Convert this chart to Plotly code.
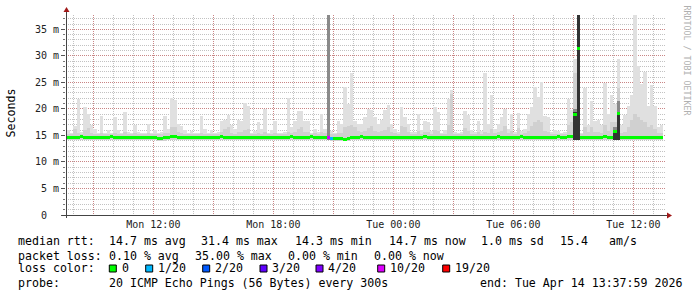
import pandas as pd
import plotly.graph_objects as go

# ---------------- data (10-minute bins, ms) ----------------
bin_start = "2026-04-13 07:40"
range_start = "2026-04-13 07:37:59"
range_end = "2026-04-14 13:37:59"

median_ms = [
    14.7, 14.7, 14.6, 14.7, 14.8, 14.7, 14.7, 14.6, 14.7, 14.7,
    14.6, 14.7, 14.7, 14.8, 14.7, 14.7, 14.6, 14.7, 14.7, 14.6,
    14.7, 14.7, 14.6, 14.7, 14.7, 14.6, 14.6, 14.5, 14.5, 14.6,
    14.7, 14.8, 14.8, 14.7, 14.7, 14.7, 14.6, 14.7, 14.7, 14.7,
    14.6, 14.7, 14.7, 14.6, 14.7, 14.7, 14.8, 14.7, 14.7, 14.6,
    14.7, 14.7, 14.6, 14.7, 14.6, 14.7, 14.7, 14.6, 14.7, 14.7,
    14.6, 14.7, 14.7, 14.6, 14.7, 14.7, 14.7, 14.8, 14.7, 14.6,
    14.7, 14.7, 14.7, 14.8, 14.7, 14.7, 14.6, 14.7, 14.7, 14.5,
    14.4, 14.5, 14.4, 14.3, 14.5, 14.7, 14.7, 14.7, 14.8, 14.7,
    14.7, 14.6, 14.7, 14.7, 14.6, 14.6, 14.7, 14.7, 14.7, 14.7,
    14.6, 14.7, 14.7, 14.7, 14.6, 14.7, 14.7, 14.8, 14.7, 14.7,
    14.7, 14.6, 14.7, 14.7, 14.6, 14.7, 14.7, 14.7, 14.6, 14.7,
    14.7, 14.7, 14.6, 14.7, 14.7, 14.7, 14.7, 14.6, 14.7, 14.8,
    14.7, 14.7, 14.7, 14.6, 14.7, 14.7, 14.8, 14.7, 14.7, 14.7,
    14.6, 14.7, 14.7, 14.7, 14.7, 14.6, 14.7, 14.8, 14.7, 14.7,
    14.8, 14.8, 18.9, 31.4, 14.6, 14.7, 14.7, 14.7, 14.6, 14.7,
    14.7, 14.8, 14.7, 14.7, 15.8, 19.2, 14.7, 14.7, 14.6, 14.7,
    14.7, 14.7, 14.7, 14.6, 14.7, 14.7, 14.7, 14.7, 14.7,
]

smoke_lo = [
    14.2, 14.2, 14.2, 14.2, 14.2, 14.2, 14.2, 14.2, 14.2, 14.2,
    14.2, 14.2, 14.2, 14.2, 14.2, 14.2, 14.2, 14.2, 14.2, 14.2,
    14.2, 14.2, 14.2, 14.2, 14.2, 14.2, 14.1, 13.9, 13.9, 13.9,
    14.2, 14.2, 14.2, 14.2, 14.2, 14.2, 14.2, 14.2, 14.2, 14.2,
    14.2, 14.2, 14.2, 14.2, 14.2, 14.2, 14.2, 14.2, 14.2, 14.2,
    14.2, 14.2, 14.2, 14.2, 14.2, 14.2, 14.2, 14.2, 14.2, 14.2,
    14.2, 14.2, 14.2, 14.2, 14.2, 14.2, 14.2, 14.2, 14.2, 14.2,
    14.2, 14.2, 14.2, 14.2, 14.2, 14.2, 14.2, 14.2, 14.2, 14.0,
    13.9, 13.9, 13.9, 13.9, 13.9, 14.2, 14.2, 14.2, 14.2, 14.2,
    14.2, 14.2, 14.2, 14.2, 14.2, 14.2, 14.2, 14.2, 14.2, 14.2,
    14.2, 14.2, 14.2, 14.2, 14.2, 14.2, 14.2, 14.2, 14.2, 14.2,
    14.2, 14.2, 14.2, 14.2, 14.2, 14.2, 14.2, 14.2, 14.2, 14.2,
    14.2, 14.2, 14.2, 14.2, 14.2, 14.2, 14.2, 14.2, 14.2, 14.2,
    14.2, 14.2, 14.2, 14.2, 14.2, 14.2, 14.2, 14.2, 14.2, 14.2,
    14.2, 14.2, 14.2, 14.2, 14.2, 14.2, 14.2, 14.2, 14.2, 14.2,
    14.2, 14.2, 14.2, 14.2, 14.2, 14.2, 14.2, 14.2, 14.2, 14.2,
    14.2, 14.2, 14.2, 14.2, 14.2, 14.2, 14.2, 14.2, 14.2, 14.2,
    14.2, 14.2, 14.2, 14.2, 14.2, 14.2, 14.2, 14.2, 14.2,
]

smoke_hi = [
    16.0, 15.5, 16.8, 21.9, 15.6, 20.3, 19.0, 16.9, 16.3, 15.4,
    18.6, 15.4, 16.0, 15.4, 18.4, 16.0, 15.4, 19.4, 15.6, 15.4,
    16.9, 15.6, 15.4, 15.4, 17.1, 15.5, 16.0, 15.4, 15.6, 18.6,
    16.3, 22.1, 21.6, 17.2, 16.8, 16.0, 15.4, 15.8, 15.4, 15.5,
    18.6, 16.3, 15.4, 16.0, 15.4, 15.6, 17.7, 18.0, 18.9, 16.9,
    16.3, 18.0, 17.7, 21.2, 20.6, 15.4, 15.8, 17.5, 16.3, 19.9,
    15.4, 16.0, 17.7, 15.4, 15.4, 15.6, 22.1, 16.6, 17.7, 19.6,
    19.6, 17.7, 17.7, 15.4, 16.3, 15.6, 19.0, 16.3, 40.0, 15.8,
    15.4, 17.7, 17.2, 24.2, 20.9, 26.8, 17.7, 17.2, 17.2, 18.4,
    20.0, 19.7, 18.4, 17.2, 18.0, 19.7, 20.8, 17.2, 16.3, 15.6,
    20.4, 18.4, 17.2, 15.6, 15.6, 19.0, 16.0, 17.7, 17.5, 15.8,
    20.3, 19.4, 15.4, 16.0, 21.9, 23.5, 15.6, 15.4, 15.6, 19.6,
    18.8, 16.0, 15.6, 17.7, 15.8, 26.8, 17.2, 22.6, 16.3, 17.2,
    18.4, 20.0, 16.3, 19.0, 15.6, 19.2, 15.8, 16.3, 19.0, 20.3,
    24.2, 22.2, 25.0, 18.6, 18.4, 15.6, 16.0, 15.8, 15.4, 15.6,
    21.9, 19.7, 29.5, 40.0, 15.4, 24.0, 16.9, 21.5, 17.7, 18.0,
    16.9, 24.8, 19.0, 22.6, 21.0, 29.5, 16.9, 18.8, 20.6, 22.6,
    40.0, 28.0, 24.7, 27.0, 20.6, 24.5, 20.6, 16.6, 16.9,
]

smoke_mid = [
    15.3, 15.2, 16.2, 15.4, 15.2, 16.0, 16.4, 15.4, 15.3, 15.2,
    15.4, 15.2, 15.3, 15.2, 15.5, 15.3, 15.2, 15.6, 15.2, 15.2,
    15.4, 15.2, 15.2, 15.2, 15.4, 15.2, 15.3, 15.2, 15.2, 15.5,
    15.4, 16.5, 16.5, 15.6, 15.4, 15.3, 15.2, 15.3, 15.2, 15.2,
    15.5, 15.3, 15.2, 15.3, 15.2, 15.2, 15.6, 16.2, 16.5, 15.5,
    15.3, 15.6, 15.6, 16.0, 16.3, 15.2, 15.3, 15.5, 15.3, 15.6,
    15.2, 15.3, 15.5, 15.2, 15.2, 15.2, 15.6, 15.4, 15.6, 16.2,
    16.5, 15.6, 15.6, 15.2, 15.4, 15.2, 15.6, 15.4, 15.8, 15.3,
    15.2, 15.5, 15.5, 16.5, 16.8, 17.0, 16.5, 15.8, 15.6, 15.8,
    16.4, 16.8, 15.8, 15.6, 15.8, 16.0, 16.5, 15.6, 15.4, 15.2,
    16.8, 16.5, 15.6, 15.2, 15.3, 15.8, 15.3, 15.6, 15.6, 15.3,
    16.0, 15.8, 15.2, 15.3, 17.0, 22.8, 15.3, 15.2, 15.3, 16.4,
    15.8, 15.3, 15.2, 15.6, 15.3, 15.6, 15.5, 16.2, 15.4, 15.6,
    15.8, 16.8, 15.4, 15.8, 15.2, 16.4, 15.3, 15.4, 15.8, 16.8,
    17.5, 18.0, 17.5, 15.8, 15.6, 15.2, 15.3, 15.3, 15.2, 15.3,
    17.0, 17.5, 26.8, 15.8, 15.2, 16.5, 15.6, 16.5, 15.6, 15.6,
    15.5, 17.0, 15.8, 17.5, 17.5, 24.0, 15.4, 15.6, 16.5, 18.0,
    19.0, 18.5, 18.0, 17.5, 16.5, 17.0, 16.3, 15.4, 15.4,
]

# sparse darker smoke bands (bin index -> top of band, ms)
dark_bins = [78, 152, 164, 165]
dark_top = [40.0, 20.0, 16.5, 21.5]
core_bins = [152, 153, 164, 165]
core_top = [19.5, 40.0, 15.7, 19.4]

# packet loss per bin (lost pings out of 20)
loss_bins = [78, 79]
loss_count = [10, 1]

loss_levels = [0, 1, 2, 3, 4, 10, 19]
loss_labels = ["0", "1/20", "2/20", "3/20", "4/20", "10/20", "19/20"]
loss_colors = ["#00ff00", "#00b8ff", "#0059ff", "#5e00ff", "#7e00ff", "#dd00ff", "#ff0000"]

y_tick_vals = [0, 5, 10, 15, 20, 25, 30, 35]
y_tick_text = ["0\u00a0\u00a0", "5 m", "10 m", "15 m", "20 m", "25 m", "30 m", "35 m"]
x_tick_vals = ["2026-04-13 09:00", "2026-04-13 12:00", "2026-04-13 15:00", "2026-04-13 18:00",
               "2026-04-13 21:00", "2026-04-14 00:00", "2026-04-14 03:00", "2026-04-14 06:00",
               "2026-04-14 09:00", "2026-04-14 12:00"]
x_tick_text = ["", "Mon 12:00", "", "Mon 18:00", "", "Tue 00:00", "", "Tue 06:00", "", "Tue 12:00"]

stats_rtt = ["14.7 ms avg", "31.4 ms max", "14.3 ms min", "14.7 ms now", "1.0 ms sd", "15.4", "am/s"]
stats_loss = ["0.10 % avg", "35.00 % max", "0.00 % min", "0.00 % now"]
probe_text = "20 ICMP Echo Pings (56 Bytes) every 300s"
end_text = "end: Tue Apr 14 13:37:59 2026"

# ---------------- build ----------------
n = len(median_ms)
starts = pd.date_range(bin_start, periods=n, freq="10min")
centers = starts + pd.Timedelta(minutes=5)
BW = 600000  # 10 min in ms

MONO = "DejaVu Sans Mono"
fig = go.Figure()


def band(xs, lo, hi, color):
    fig.add_trace(go.Bar(
        x=xs, y=[h - l for l, h in zip(lo, hi)], base=lo, width=BW,
        marker=dict(color=color, line=dict(width=0)), hoverinfo="skip"))


band(centers, smoke_lo, smoke_hi, "#e0e0e0")
band(centers, smoke_lo, smoke_mid, "#d0d0d0")
band([centers[i] for i in dark_bins], [smoke_lo[i] for i in dark_bins], dark_top, "#8a8a8a")
band([centers[i] for i in core_bins], [smoke_lo[i] for i in core_bins], core_top, "#333333")

loss_map = dict(zip(loss_bins, loss_count))
col_of = dict(zip(loss_levels, loss_colors))


def loss_color(c):
    best = 0
    for lv in loss_levels:
        if c >= lv:
            best = lv
    return col_of[best]


med_cols = [loss_color(loss_map.get(i, 0)) for i in range(n)]
MH = 0.56
fig.add_trace(go.Bar(
    x=centers, y=[MH] * n, base=[m - MH / 2 for m in median_ms], width=BW,
    marker=dict(color=med_cols, line=dict(width=0)), hoverinfo="skip"))

# ---------------- layout ----------------
L, T, W, H = 66, 15, 600, 200


def px(xp):
    return (xp - L) / W


def py(yp):
    return (T + H - yp) / H


MINOR = "rgba(120,120,120,0.45)"
MAJOR = "rgba(210,60,60,0.45)"
DOT = "1px,1px"

fig.update_layout(
    width=697, height=297,
    margin=dict(l=L, r=697 - L - W, t=T, b=297 - T - H, pad=0),
    paper_bgcolor="white", plot_bgcolor="white",
    barmode="overlay", bargap=0, showlegend=False,
    xaxis=dict(
        type="date", range=[range_start, range_end],
        tickmode="array", tickvals=x_tick_vals, ticktext=x_tick_text,
        showgrid=True, gridcolor=MAJOR, griddash=DOT, gridwidth=1,
        ticks="", showline=False, zeroline=False, ticklabelstandoff=2,
        tickfont=dict(family=MONO, size=10, color="#222"),
        minor=dict(dtick=3600000, tick0="2026-04-13 00:00", showgrid=True,
                   gridcolor=MINOR, griddash=DOT, gridwidth=1),
    ),
    yaxis=dict(
        range=[0, 37.7], tickmode="array", tickvals=y_tick_vals, ticktext=y_tick_text,
        showgrid=True, gridcolor=MAJOR, griddash=DOT, gridwidth=1,
        ticks="outside", ticklen=4, tickcolor="#555", zeroline=False, showline=False,
        tickfont=dict(family=MONO, size=10, color="#222"),
        minor=dict(dtick=1, tick0=0, showgrid=True, gridcolor=MINOR, griddash=DOT,
                   gridwidth=1, ticks="outside", ticklen=2, tickcolor="#777"),
    ),
)

shapes = []
# axes lines
shapes.append(dict(type="line", xref="paper", yref="paper", x0=px(62), x1=px(667),
                   y0=py(215.5), y1=py(215.5), line=dict(color="#444", width=1)))
shapes.append(dict(type="line", xref="paper", yref="paper", x0=px(66.5), x1=px(66.5),
                   y0=py(218), y1=py(11), line=dict(color="#444", width=1)))
# arrows
shapes.append(dict(type="path", xref="paper", yref="paper",
                   path=f"M {px(63.5)} {py(12)} L {px(69.5)} {py(12)} L {px(66.5)} {py(7)} Z",
                   fillcolor="#a01818", line=dict(width=0)))
shapes.append(dict(type="path", xref="paper", yref="paper",
                   path=f"M {px(667)} {py(212.5)} L {px(667)} {py(218.5)} L {px(672)} {py(215.5)} Z",
                   fillcolor="#a01818", line=dict(width=0)))

ann = []
FS = 11.6


def text(s, xp, yp, size=FS, color="#000", angle=0, anchor="left"):
    ann.append(dict(text=s, xref="paper", yref="paper", x=px(xp), y=py(yp),
                    xanchor=anchor, yanchor="middle", showarrow=False, textangle=angle,
                    font=dict(family=MONO, size=size, color=color)))


text("Seconds", 10.5, 113, angle=-90, anchor="center")
text("RRDTOOL / TOBI OETIKER", 686.5, 60, size=8.3, color="#b0b0b0", angle=90, anchor="center")

# line 1
text("median rtt:", 16, 241)
for s, xp in zip(stats_rtt, [107.3, 199.3, 292.7, 386.7, 479.3, 558.3, 607.0]):
    text(s, xp, 241)
# line 2
text("packet loss:", 16, 255.5)
for s, xp in zip(stats_loss, [107.3, 193.0, 286.3, 372.3]):
    text(s, xp, 255.5)
# line 3
text("loss color:", 16, 268.3)
for lab, colr, xp in zip(loss_labels, loss_colors, [109.3, 145.7, 202.7, 260.0, 316.0, 377.7, 442.7]):
    shapes.append(dict(type="rect", xref="paper", yref="paper", x0=px(xp), x1=px(xp + 7),
                       y0=py(272), y1=py(265), fillcolor=colr, line=dict(color="#000", width=1)))
    text(lab, xp + 10.3, 268.3)
# line 4
text("probe:", 16, 283.3)
text(probe_text, 107.3, 283.3)
text(end_text, 478.3, 283.3)

fig.update_layout(shapes=shapes, annotations=ann)
fig.write_html("out.html")
